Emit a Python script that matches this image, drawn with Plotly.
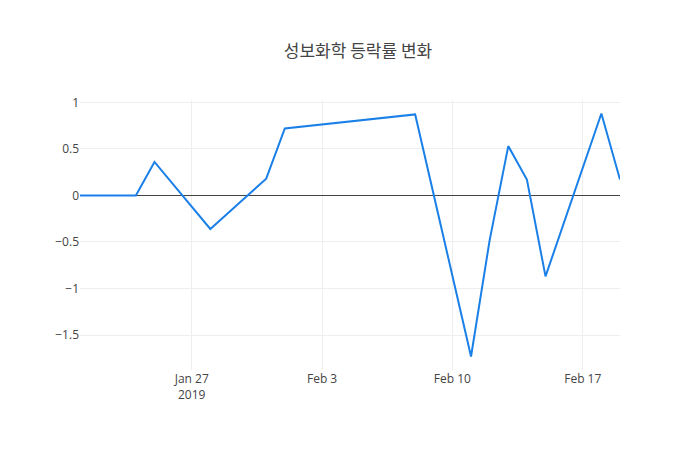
import plotly.graph_objects as go

dates = ["2019-01-21","2019-01-22","2019-01-23","2019-01-24","2019-01-25","2019-01-28","2019-01-29","2019-01-30","2019-01-31","2019-02-01","2019-02-07","2019-02-08","2019-02-11","2019-02-12","2019-02-13","2019-02-14","2019-02-15","2019-02-18","2019-02-19"]
rates = [0,0,0,0,0.36,-0.36,-0.18,0,0.18,0.72,0.85,0.87,-1.73,-0.48,0.53,0.17,-0.87,0.88,0.17]

fig = go.Figure(go.Scatter(x=dates, y=rates, mode="lines", line=dict(color="#1a80e8", width=2)))
fig.update_layout(
    title=dict(text="성보화학 등락률 변화", x=0.5, y=0.904, yanchor="middle", yref="container",
               font=dict(size=17, family="Noto Sans CJK KR", color="#444")),
    width=700, height=450, plot_bgcolor="white", paper_bgcolor="white",
    font=dict(family="Open Sans", color="#444", size=12),
    margin=dict(l=72, r=88, t=92, b=88),
    xaxis=dict(showgrid=True, gridcolor="#eee", zeroline=False, range=["2019-01-21","2019-02-19"]),
    yaxis=dict(showgrid=True, gridcolor="#eee", zeroline=True, zerolinecolor="#444", zerolinewidth=1,
               tickvals=[-1.5,-1,-0.5,0,0.5,1]),
)
fig.write_html("out.html")
